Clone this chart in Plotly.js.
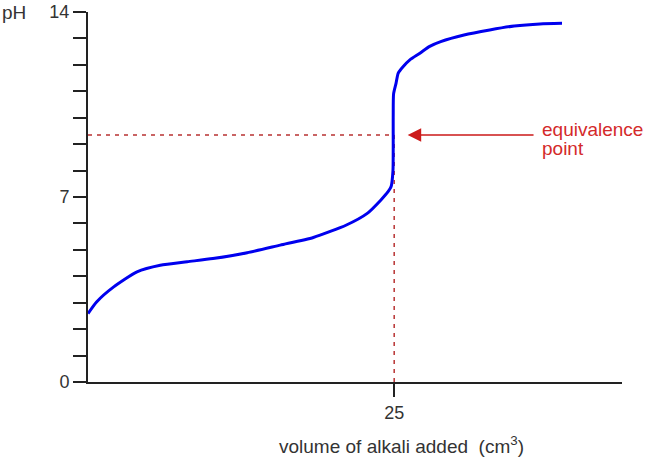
<!DOCTYPE html>
<html>
<head>
<meta charset="utf-8">
<script src="https://cdn.plot.ly/plotly-3.0.1.min.js"></script>
<style>html,body{margin:0;padding:0;background:#fff;}#chart{width:656px;height:460px;}</style>
</head>
<body>
<div id="chart"></div>
<script>
// Titration curve
var volume = [0, 0.7, 2.1, 4.0, 5.9, 8.1, 10.2, 13.0, 15.7, 18.4, 21.1, 22.8, 23.9, 24.5, 24.75, 24.9, 24.92, 24.95, 25.15, 25.33, 25.74, 26.28, 27.1, 27.9, 28.8, 30.7, 32.8, 34.8, 36.9, 38.7];
var pH =     [2.59, 3.03, 3.6, 4.17, 4.42, 4.55, 4.67, 4.89, 5.18, 5.47, 5.94, 6.38, 6.88, 7.2, 7.4, 8.0, 10.0, 10.9, 11.3, 11.69, 11.94, 12.19, 12.44, 12.7, 12.88, 13.13, 13.32, 13.47, 13.55, 13.57];
var equivVolume = 25;
var equivPH = 9.35;
var yTickVals = [0,1,2,3,4,5,6,7,8,9,10,11,12,13,14];
var yTickText = ['0','','','','','','','7','','','','','','','14'];
var xTickVals = [25];
var xTickText = ['25'];

var axisFont = {family: 'Liberation Sans, Arial, sans-serif', size: 18, color: '#333'};
var red = '#b83232';
var labelFont = {family: 'Liberation Sans, Arial, sans-serif', size: 19, color: '#d42a2a'};

var data = [{
  x: volume, y: pH, type: 'scatter', mode: 'lines',
  line: {color: '#0000ee', width: 3, shape: 'spline', smoothing: 0.6}, hoverinfo: 'skip'
}];

var layout = {
  width: 656, height: 460,
  margin: {l: 88, r: 34, t: 12, b: 78},
  paper_bgcolor: '#fff', plot_bgcolor: '#fff',
  showlegend: false,
  xaxis: {
    range: [0, 43.6], showgrid: false, zeroline: false,
    showline: true, linecolor: '#222', linewidth: 2,
    tickvals: xTickVals, ticktext: xTickText,
    ticks: 'outside', ticklen: 13, tickwidth: 2, tickcolor: '#222',
    tickfont: axisFont
  },
  yaxis: {
    range: [0, 14], showgrid: false, zeroline: false,
    showline: true, linecolor: '#222', linewidth: 2,
    tickvals: yTickVals, ticktext: yTickText,
    ticks: 'outside', ticklen: 13, tickwidth: 2, tickcolor: '#222',
    tickfont: axisFont
  },
  shapes: [
    {type: 'line', xref: 'x', yref: 'y', x0: 0, x1: equivVolume, y0: equivPH, y1: equivPH,
     line: {color: red, width: 1.5, dash: '4px,5px'}, layer: 'below'},
    {type: 'line', xref: 'x', yref: 'y', x0: equivVolume, x1: equivVolume, y0: 0, y1: equivPH,
     line: {color: red, width: 1.5, dash: '4px,5px'}, layer: 'below'}
  ],
  annotations: [
    {xref: 'paper', yref: 'y', x: -0.1648, y: 14, xanchor: 'left', yanchor: 'middle',
     text: 'pH', showarrow: false, font: {family: 'Liberation Sans, Arial, sans-serif', size: 19, color: '#333'}},
    {xref: 'x', yref: 'paper', x: 25.6, y: -0.171, xanchor: 'center', yanchor: 'middle',
     text: 'volume of alkali added  (cm<sup>3</sup>)', showarrow: false,
     font: {family: 'Liberation Sans, Arial, sans-serif', size: 19, color: '#333'}},
    {xref: 'x', yref: 'y', x: 26.1, y: equivPH, axref: 'x', ayref: 'y', ax: 36.5, ay: equivPH,
     text: '', showarrow: true, arrowhead: 2, arrowsize: 1.8, arrowwidth: 1.5, arrowcolor: '#cc1a1a'},
    {xref: 'x', yref: 'y', x: 36.88, y: 9.57, xanchor: 'left', yanchor: 'middle', align: 'left',
     text: 'equivalence', showarrow: false, font: labelFont},
    {xref: 'x', yref: 'y', x: 36.88, y: 8.82, xanchor: 'left', yanchor: 'middle', align: 'left',
     text: 'point', showarrow: false, font: labelFont}
  ]
};

Plotly.newPlot('chart', data, layout, {staticPlot: true, displayModeBar: false});
</script>
</body>
</html>
